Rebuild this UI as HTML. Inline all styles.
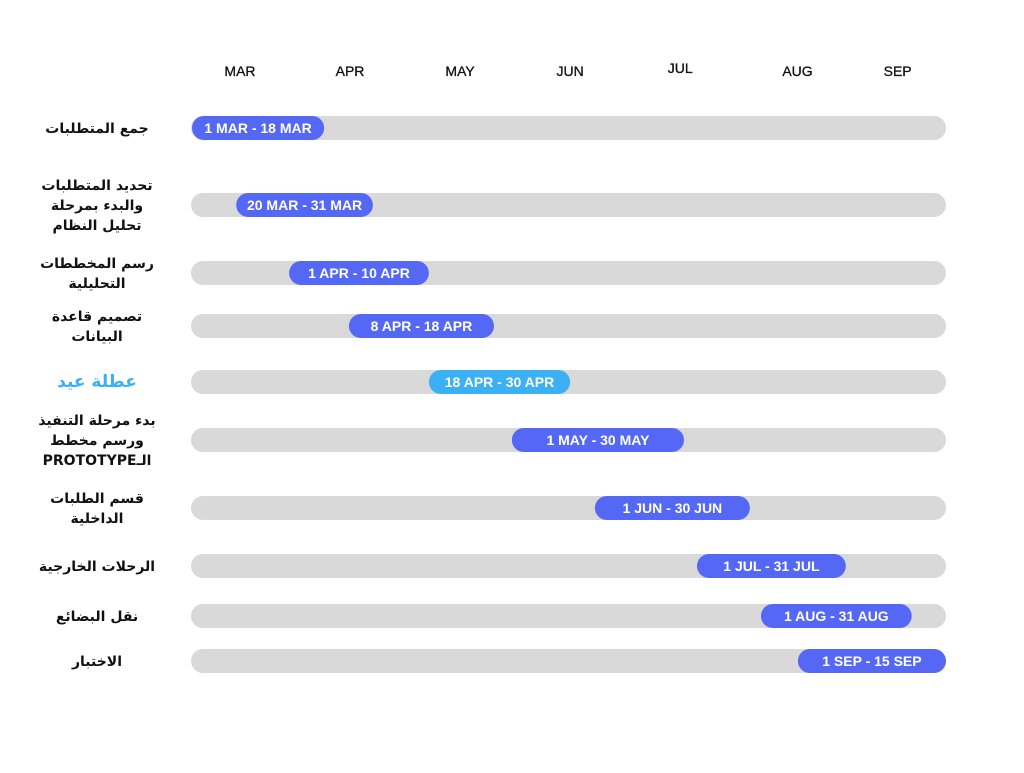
<!DOCTYPE html>
<html><head><meta charset="utf-8"><style>
body{margin:0;background:#fff;}
svg text{font-family:"DejaVu Sans","Liberation Sans",sans-serif;}
svg text.lat{font-family:"Liberation Sans","DejaVu Sans",sans-serif;}
</style></head><body>
<svg width="1024" height="768" viewBox="0 0 1024 768" xmlns="http://www.w3.org/2000/svg" id="chart"></svg>
<script>
const months=["MAR","APR","MAY","JUN","JUL","AUG","SEP"];
const monthDays=[12.6,41.5,70.4,99.3,128.2,159,185.3];
const taskLabels=[["جمع المتطلبات"],["تحديد المتطلبات","والبدء بمرحلة","تحليل النظام"],["رسم المخططات","التحليلية"],["تصميم قاعدة","البيانات"],["عطلة عيد"],["بدء مرحلة التنفيذ","ورسم مخطط","الـPROTOTYPE"],["قسم الطلبات","الداخلية"],["الرحلات الخارجية"],["نقل البضائع"],["الاختبار"]];
const barText=["1 MAR - 18 MAR","20 MAR - 31 MAR","1 APR - 10 APR","8 APR - 18 APR","18 APR - 30 APR","1 MAY - 30 MAY","1 JUN - 30 JUN","1 JUL - 31 JUL","1 AUG - 31 AUG","1 SEP - 15 SEP"];
const startDay=[0,11.6,25.5,41.2,62.2,84,105.8,132.6,149.4,159.1];
const endDay=[34.7,47.5,62.2,79.3,99.3,129.2,146.5,171.7,189,198];
const holiday=[false,false,false,false,true,false,false,false,false,false];
const rowY=[128,205,273,326,382,440,508,566,616,661];
const X0=192,X1=946,D1=198;
const x=d=>X0+d*(X1-X0)/D1;
const svg=document.getElementById('chart');
const NS="http://www.w3.org/2000/svg";
function mk(t,a,txt){const e=document.createElementNS(NS,t);for(const k in a)e.setAttribute(k,a[k]);if(txt!==undefined)e.textContent=txt;svg.appendChild(e);return e;}
months.forEach((m,i)=>{
 const e=mk('text',{class:'lat',x:x(monthDays[i]),y:m==="JUL"?73:76,'text-anchor':'middle','font-size':14,fill:'#111','stroke':'#111','stroke-width':0.3},m);
 
 
});
taskLabels.forEach((lines,i)=>{
 const cy=rowY[i];
 const tr=mk('rect',{x:191,y:cy-12,width:X1-191,height:24,rx:12,fill:'#d9d9d9'});
 
 
 const lh=20,n=lines.length;
 lines.forEach((l,j)=>{
  const t=mk('text',{x:97,y:cy+(j-(n-1)/2)*lh+5,'text-anchor':'middle','font-size':holiday[i]?17:14,'font-weight':'bold',fill:holiday[i]?'#3bb0f5':'#111',direction:'rtl'},l);
  
  
 });
 const bx=x(startDay[i]),bw=x(endDay[i])-bx;
 const b=mk('rect',{x:bx,y:cy-12,width:bw,height:24,rx:12,fill:holiday[i]?'#3bb0f5':'#5468f5'});
 
 
 const bt=mk('text',{class:'lat',x:bx+bw/2,y:cy+5,'text-anchor':'middle','font-size':14,'font-weight':'bold',fill:'#fff'},barText[i]);
 
 
});
</script>
</body></html>
